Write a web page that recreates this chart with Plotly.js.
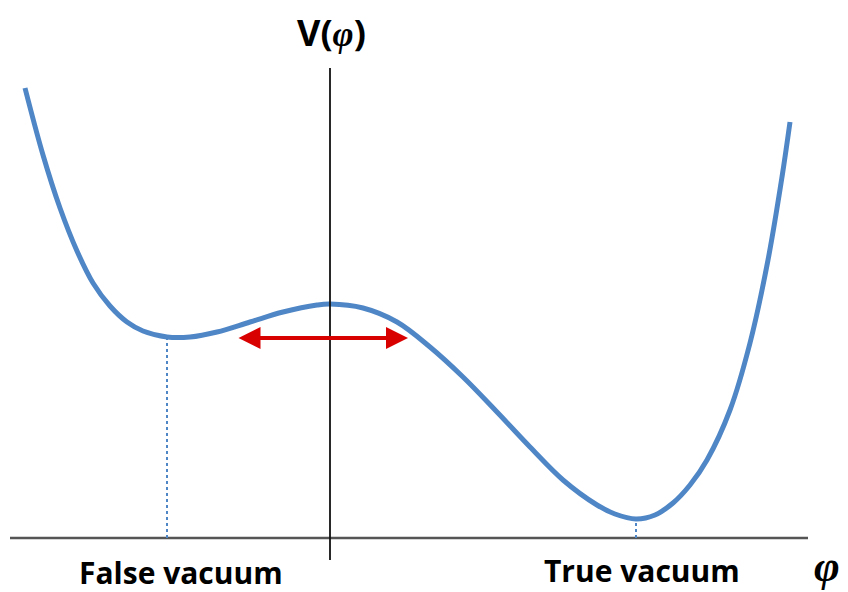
<!DOCTYPE html>
<html>
<head>
<meta charset="utf-8">
<script src="https://cdn.plot.ly/plotly-3.0.1.min.js"></script>
<style>html,body{margin:0;padding:0;background:#fff;}#chart{width:848px;height:592px;}</style>
</head>
<body>
<div id="chart"></div>
<script>
// Potential curve V(phi) (arbitrary units)
const phi = [-3.05,-2.87,-2.70,-2.53,-2.37,-2.20,-2.03,-1.87,-1.63,-1.40,-1.13,-0.80,-0.47,-0.13,0.00,0.33,0.67,1.00,1.33,1.67,2.00,2.33,2.67,2.85,3.06,3.25,3.43,3.60,3.77,4.00,4.20,4.38,4.52,4.60];
const V   = [4.50,3.83,3.30,2.87,2.55,2.32,2.16,2.07,2.01,2.01,2.06,2.16,2.26,2.33,2.34,2.30,2.16,1.91,1.61,1.26,0.91,0.58,0.33,0.24,0.19,0.23,0.35,0.53,0.78,1.28,1.95,2.78,3.61,4.16];

// Minima (false / true vacuum)
const vacuumPhi = [-1.63, 3.06];
const vacuumV   = [2.01, 0.19];
const vacuumLabels = ["False vacuum", "True vacuum"];

// Tunnelling arrow
const arrowPhi = [-0.93, 0.78];
const arrowV = 2.00;

// Axes extents
const hAxisPhi = [-3.20, 4.78];
const vAxisV = [-0.22, 4.70];

const traces = [
  {x: phi, y: V, type: 'scatter', mode: 'lines',
   line: {color: '#4f86c6', width: 5, shape: 'spline', smoothing: 1},
   hoverinfo: 'skip', showlegend: false}
];

const shapes = [
  {type: 'line', xref: 'x', yref: 'y', x0: hAxisPhi[0], x1: hAxisPhi[1], y0: 0, y1: 0,
   line: {color: '#555555', width: 2.5}},
  {type: 'line', xref: 'x', yref: 'y', x0: 0, x1: 0, y0: vAxisV[0], y1: vAxisV[1],
   line: {color: '#111111', width: 1.8}}
];
vacuumPhi.forEach((p, i) => {
  shapes.push({type: 'line', xref: 'x', yref: 'y', x0: p, x1: p, y0: 0, y1: vacuumV[i],
    line: {color: '#4f86c6', width: 2, dash: 'dot'}});
});

const font = "'Open Sans', sans-serif";
const phiSpan = "<span style=\"font-family:'Liberation Serif',serif\"><i>φ</i></span>";
const annotations = [
  {x: arrowPhi[1], y: arrowV, ax: arrowPhi[0], ay: arrowV, xref: 'x', yref: 'y', axref: 'x', ayref: 'y',
   text: '', showarrow: true, arrowside: 'end+start', arrowhead: 2, arrowsize: 1.1, arrowwidth: 4, arrowcolor: '#d90000',
   startarrowhead: 2, startarrowsize: 1.1},
  {x: 331/848, y: 1 - 33/592, xref: 'paper', yref: 'paper', text: '<b>V(' + phiSpan + ')</b>', showarrow: false,
   font: {family: font, size: 36, color: '#000'}, yanchor: 'middle', xanchor: 'center', borderpad: 0},
  {x: 827/848, y: 1 - 566/592, xref: 'paper', yref: 'paper', text: '<b>' + phiSpan + '</b>', showarrow: false,
   font: {family: font, size: 44, color: '#000'}, yanchor: 'middle', xanchor: 'center', borderpad: 0}
];
const labelPx = [[181, 572], [642, 570]];
vacuumLabels.forEach((t, i) => {
  annotations.push({x: labelPx[i][0]/848, y: 1 - labelPx[i][1]/592, xref: 'paper', yref: 'paper',
    text: '<b>' + t + '</b>', showarrow: false, xanchor: 'center', yanchor: 'middle', borderpad: 0,
    font: {family: font, size: 30, color: '#000'}});
});

const layout = {
  width: 848, height: 592,
  margin: {l: 0, r: 0, t: 0, b: 0},
  paper_bgcolor: '#fff', plot_bgcolor: '#fff',
  xaxis: {range: [-3.30, 5.18], visible: false, showgrid: false, zeroline: false},
  yaxis: {range: [-0.54, 5.38], visible: false, showgrid: false, zeroline: false},
  shapes: shapes,
  annotations: annotations,
  showlegend: false
};

Plotly.newPlot('chart', traces, layout, {displayModeBar: false, staticPlot: true});
</script>
</body>
</html>
